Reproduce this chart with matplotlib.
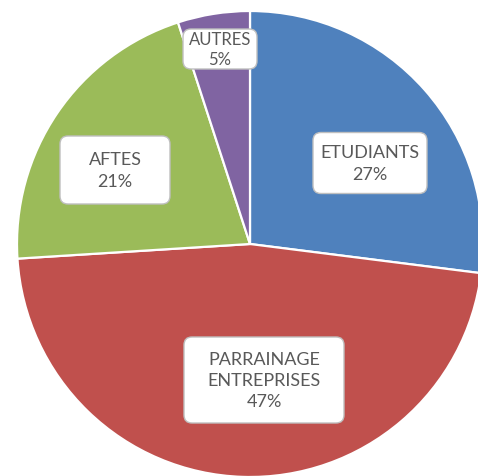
import matplotlib
matplotlib.use("Agg")
import matplotlib.pyplot as plt
from matplotlib.patches import FancyBboxPatch

categories = ["ETUDIANTS", "PARRAINAGE\nENTREPRISES", "AFTES", "AUTRES"]
values = [27, 47, 21, 5]
colors = ["#4F81BD", "#C0504D", "#9BBB59", "#8064A2"]

W, H = 478, 477
fig = plt.figure(figsize=(W / 100, H / 100), dpi=100)
ax = fig.add_axes([0, 0, 1, 1])

cx, cy, R = 250, H - 245, 233
ax.pie(values, colors=colors, startangle=90, counterclock=False,
       center=(cx, cy), radius=R, frame=True,
       wedgeprops=dict(edgecolor="white", linewidth=1.6))
ax.set_xlim(0, W)
ax.set_ylim(0, H)
ax.set_aspect("equal")
ax.axis("off")

# label boxes: (center x, center y from top, width, height, fontsize, linespacing)
boxes = [(370, 164, 114, 61, 13, 1.5), (264, 381, 160, 86, 13, 1.38),
         (115, 171, 110, 68, 13, 1.5), (220, 50, 74, 40, 12, 1.25)]
for cat, v, (bx, by, bw, bh, fs, ls) in zip(categories, values, boxes):
    yy = H - by
    patch = FancyBboxPatch((bx - bw / 2 + 8, yy - bh / 2 + 8), bw - 16, bh - 16,
                           boxstyle="round,pad=8", facecolor="white",
                           edgecolor="#BFBFBF", linewidth=1.0, zorder=5)
    ax.add_patch(patch)
    ax.text(bx, yy, f"{cat}\n{v}%", ha="center", va="center", fontsize=fs,
            family=["Lato", "DejaVu Sans"], color="#595959",
            linespacing=ls, zorder=6)

fig.savefig("out.png", dpi=100)
